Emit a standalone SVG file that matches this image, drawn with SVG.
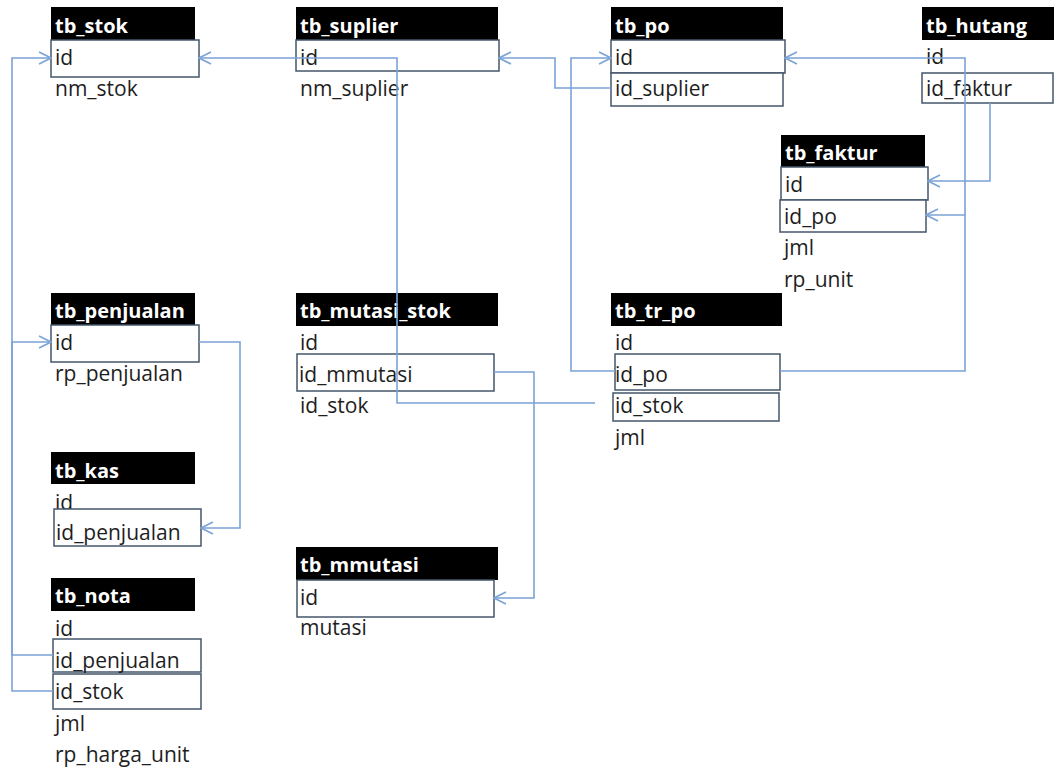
<svg xmlns="http://www.w3.org/2000/svg" width="1054" height="769" viewBox="0 0 1054 769">
<style>
.hd{fill:#000}
.ht{fill:#fff;font-family:"Open Sans","Noto Sans",sans-serif;font-weight:bold;font-size:20px}
.ft{fill:#1e1e1e;font-family:"Open Sans","Noto Sans",sans-serif;font-size:21px}
.bx{fill:#fff;stroke:#44566b;stroke-width:1.5}
.cn{fill:none;stroke:#7ba3d6;stroke-width:1.6}
</style>
<defs>
<marker id="arr" viewBox="-1 -1 14 14" refX="12" refY="6" markerWidth="14" markerHeight="14" orient="auto" markerUnits="userSpaceOnUse">
<path d="M0,0 L12,6 L0,12" fill="none" stroke="#7ba3d6" stroke-width="1.6"/>
</marker>
</defs>
<rect width="1054" height="769" fill="#fff"/>

<g id="tb_stok">
<rect class="hd" x="51" y="7" width="144" height="33"/>
<text class="ht" x="55" y="33">tb_stok</text>
<rect class="bx" x="51" y="40" width="148" height="37"/>
<text class="ft" x="55" y="65">id</text>
<text class="ft" x="55" y="96">nm_stok</text>
</g>

<g id="tb_suplier">
<rect class="hd" x="296" y="7" width="202" height="33"/>
<text class="ht" x="300" y="33">tb_suplier</text>
<rect class="bx" x="296" y="40" width="203" height="31"/>
<text class="ft" x="300" y="65">id</text>
<text class="ft" x="300" y="96">nm_suplier</text>
</g>

<g id="tb_po">
<rect class="hd" x="611" y="7" width="172" height="33"/>
<text class="ht" x="615" y="33">tb_po</text>
<rect class="bx" x="611" y="40" width="174" height="33"/>
<text class="ft" x="615" y="65">id</text>
<rect class="bx" x="611" y="73" width="172" height="33"/>
<text class="ft" x="615" y="96">id_suplier</text>
</g>

<g id="tb_hutang">
<rect class="hd" x="922" y="7" width="134" height="33"/>
<text class="ht" x="926" y="33">tb_hutang</text>
<text class="ft" x="926" y="64">id</text>
<rect class="bx" x="922" y="73" width="131" height="30"/>
<text class="ft" x="926" y="96">id_faktur</text>
</g>

<g id="tb_faktur">
<rect class="hd" x="781" y="135" width="144" height="32"/>
<text class="ht" x="785" y="160">tb_faktur</text>
<rect class="bx" x="781" y="167" width="147" height="33"/>
<text class="ft" x="785" y="192">id</text>
<rect class="bx" x="780" y="200" width="146" height="32"/>
<text class="ft" x="784" y="224">id_po</text>
<text class="ft" x="784" y="255">jml</text>
<text class="ft" x="784" y="287">rp_unit</text>
</g>

<g id="tb_penjualan">
<rect class="hd" x="51" y="293" width="144" height="32"/>
<text class="ht" x="55" y="318">tb_penjualan</text>
<rect class="bx" x="51" y="325" width="148" height="37"/>
<text class="ft" x="55" y="350">id</text>
<text class="ft" x="55" y="381">rp_penjualan</text>
</g>

<g id="tb_kas">
<rect class="hd" x="51" y="452" width="144" height="32"/>
<text class="ht" x="55" y="478">tb_kas</text>
<text class="ft" x="55" y="510">id</text>
<rect class="bx" x="54" y="509" width="147" height="37"/>
<text class="ft" x="56" y="540">id_penjualan</text>
</g>

<g id="tb_nota">
<rect class="hd" x="51" y="578" width="144" height="33"/>
<text class="ht" x="55" y="603">tb_nota</text>
<text class="ft" x="55" y="636">id</text>
<rect class="bx" x="53" y="639" width="148" height="33"/>
<text class="ft" x="55" y="668">id_penjualan</text>
<rect class="bx" x="53" y="674" width="148" height="35"/>
<text class="ft" x="55" y="699">id_stok</text>
<text class="ft" x="55" y="731">jml</text>
<text class="ft" x="55" y="762">rp_harga_unit</text>
</g>

<g id="tb_mutasi_stok">
<rect class="hd" x="296" y="293" width="202" height="33"/>
<text class="ht" x="300" y="318">tb_mutasi_stok</text>
<text class="ft" x="300" y="350">id</text>
<rect class="bx" x="297" y="354" width="197" height="37"/>
<text class="ft" x="299" y="382">id_mmutasi</text>
<text class="ft" x="300" y="413">id_stok</text>
</g>

<g id="tb_mmutasi">
<rect class="hd" x="296" y="547" width="202" height="33"/>
<text class="ht" x="300" y="572">tb_mmutasi</text>
<rect class="bx" x="297" y="580" width="197" height="37"/>
<text class="ft" x="300" y="605">id</text>
<text class="ft" x="300" y="635">mutasi</text>
</g>

<g id="tb_tr_po">
<rect class="hd" x="611" y="293" width="171" height="33"/>
<text class="ht" x="615" y="318">tb_tr_po</text>
<text class="ft" x="615" y="350">id</text>
<rect class="bx" x="615" y="354" width="165" height="36"/>
<text class="ft" x="615" y="382">id_po</text>
<rect class="bx" x="613" y="393" width="166" height="28"/>
<text class="ft" x="615" y="413">id_stok</text>
<text class="ft" x="615" y="445">jml</text>
</g>

<g id="connectors">
<path class="cn" d="M595,403 H397 V58 H199" marker-end="url(#arr)"/>
<path class="cn" d="M611,88 H555 V58 H499" marker-end="url(#arr)"/>
<path class="cn" d="M615,371 H571 V58 H611" marker-end="url(#arr)"/>
<path class="cn" d="M780,371 H965 V58 H785" marker-end="url(#arr)"/>
<path class="cn" d="M965,215 H926" marker-end="url(#arr)"/>
<path class="cn" d="M990,103 V181 H928" marker-end="url(#arr)"/>
<path class="cn" d="M53,691 H12 V58 H51" marker-end="url(#arr)"/>
<path class="cn" d="M53,655 H12 V342 H51" marker-end="url(#arr)"/>
<path class="cn" d="M199,342 H240 V528 H201" marker-end="url(#arr)"/>
<path class="cn" d="M494,372 H534 V598 H494" marker-end="url(#arr)"/>
</g>
</svg>
